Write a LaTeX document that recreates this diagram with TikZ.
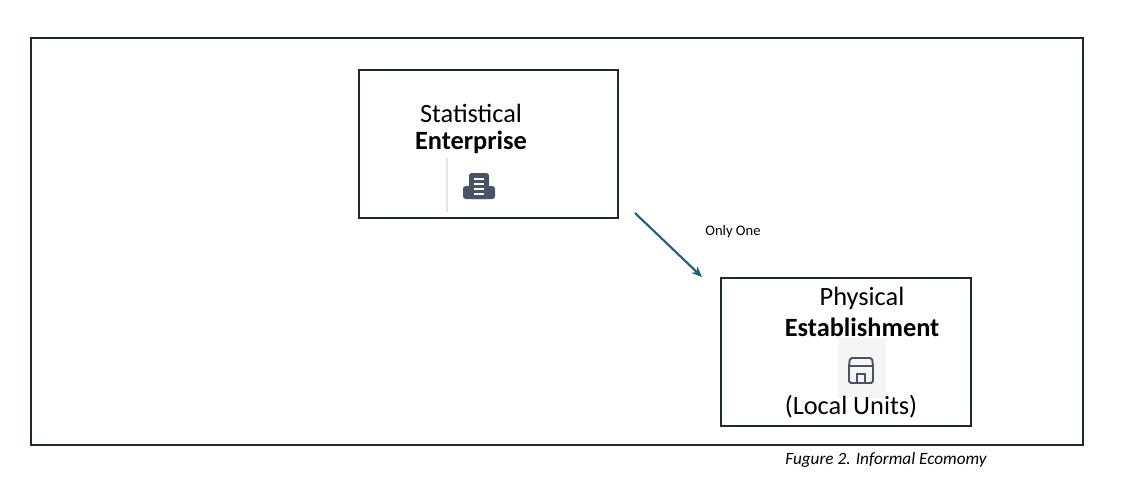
\documentclass[tikz,border=0pt]{standalone}
\usepackage{fontspec}
\setmainfont{Carlito}
\usetikzlibrary{arrows.meta}
\definecolor{frame}{HTML}{1B2B35}
\definecolor{arr}{HTML}{225E7C}
\definecolor{icon}{HTML}{4A5366}
\begin{document}
\begin{tikzpicture}[x=0.02cm,y=-0.02cm,
  box/.style={draw=frame,line width=1.4pt},
  lbl/.style={font=\fontsize{15}{17}\selectfont,inner sep=0}]
\useasboundingbox[fill=white] (0,0) rectangle (1137,488);
\draw[box] (31,38) rectangle (1083,445);
\draw[box] (359,70) rectangle (618,218);
\node[lbl] (s1) at (471,113) {Statistical};
\node[lbl,font=\fontsize{15}{17}\selectfont\bfseries] (s2) at (471,142) {Enterprise};
\draw[gray!20,line width=0.8pt] (447,158) -- (447,212);
% building icon
\fill[icon,rounded corners=1.5] (463,186) rectangle (495,199);
\fill[icon,rounded corners=1.5] (469,173) rectangle (489,199);
\foreach \yy in {179,184,189,194} \draw[white,line width=0.6pt] (474,\yy) -- (484,\yy);
\draw[box] (721,278) rectangle (971,426);
\node[lbl] (p1) at (862,298) {Physical};
\node[lbl,font=\fontsize{15}{17}\selectfont\bfseries] (p2) at (862,327) {Establishment};
\fill[gray!8] (838,338) rectangle (886,398);
% store icon
\draw[icon,line width=1.1pt,rounded corners=1] (850,358) -- (849,366) -- (849,383) -- (873,383) -- (873,366) -- (872,358) -- cycle;
\draw[icon,line width=1.1pt] (849,366) -- (873,366);
\draw[icon,line width=1.1pt] (857,383) -- (857,374) -- (865,374) -- (865,383);
\node[lbl] (p3) at (851,407) {(Local Units)};
\coordinate (a1) at (635,213);
\coordinate (a2) at (702,277);
\draw[arr,line width=1.2pt,-{Stealth[length=6pt,width=5pt]}] (a1) -- (a2);
\node[font=\fontsize{8.3}{10}\selectfont,inner sep=0] (oo) at (733,232) {Only One};
\node[font=\fontsize{9.8}{12}\selectfont\itshape,inner sep=0] (cap) at (886,460) {Fugure 2. Informal Ecomomy};
\end{tikzpicture}
\end{document}
